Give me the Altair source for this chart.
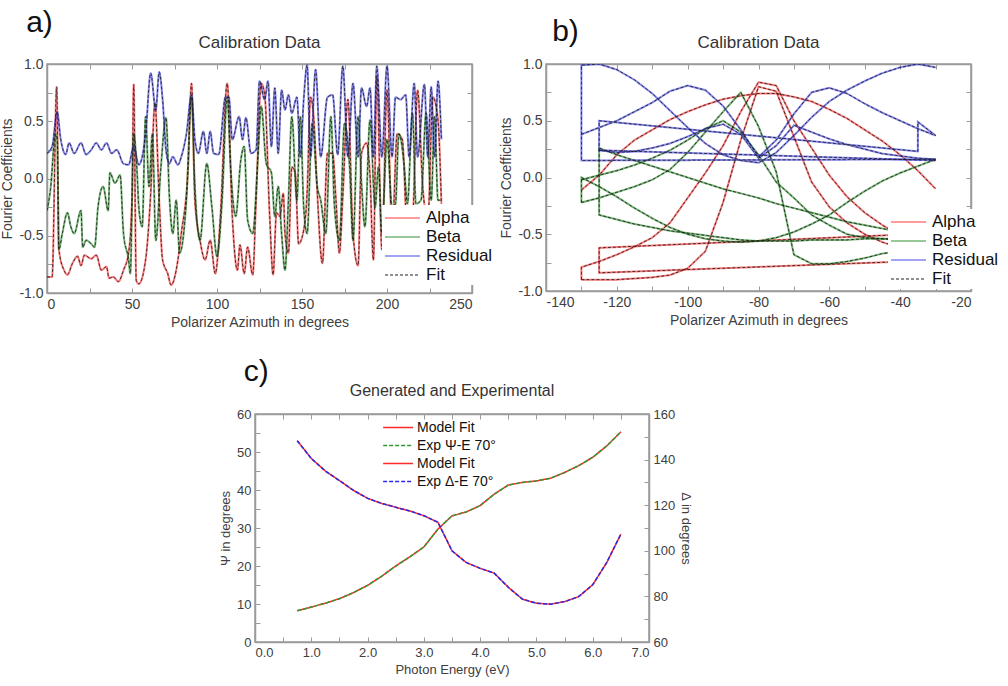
import altair as alt
import pandas as pd

FONT = "Liberation Sans"
MINUS = "\u2212"

# ---------------- panel a : Calibration Data (0..250 deg) ----------------
a_alpha_x = [0, 3, 5.7, 7, 10, 12, 15, 18, 20, 22, 26, 29, 32, 35, 36.5, 39, 42, 45, 48, 50,
             51, 52.5, 54, 58, 61, 63.5, 66, 68, 71, 73, 76, 79, 83, 85, 87, 90, 93, 96, 99, 102,
             106, 109, 112, 113.5, 116, 118, 121, 123, 126, 128, 131, 133, 135, 137, 139, 140, 142,
             144, 146, 148, 151, 153, 155, 157, 159, 162, 165, 168, 170, 172, 174, 177, 180, 183,
             185, 188, 190, 192, 194, 197, 200, 203, 206, 209, 212, 215, 218, 221, 224, 227, 230, 232]
a_alpha_y = [-0.86, -0.86, 0.80, -0.62, -0.80, -0.84, -0.74, -0.68, -0.76, -0.67, -0.70, -0.67, -0.80,
             -0.77, -0.87, -0.86, -0.90, -0.80, -0.65, -0.19, 0.82, -0.89, -0.92, -0.71, -0.13, 0.66,
             -0.19, -0.71, -0.83, -0.93, -0.80, -0.48, 0.10, 0.83, -0.19, -0.54, -0.71, -0.54, -0.83,
             -0.33, 0.83, -0.33, -0.80, -0.58, -0.83, -0.60, -0.84, -0.19, 0.83, 0.74, -0.33, -0.84,
             -0.30, -0.33, -0.13, -0.48, -0.65, 0.10, 0.05, -0.57, -0.45, -0.13, 0.71, 0.51, -0.13,
             -0.74, 0.22, 0.22, -0.19, -0.65, -0.16, 0.69, -0.48, -0.76, 0.22, 0.31, 0.02, -0.71, 0.89,
             -0.62, 0.77, -0.48, 0.39, 0.34, -0.48, -0.36, 0.77, -0.07, -0.36, 0.71, 0.51, -0.22]

a_beta_x = [0, 2, 5, 6, 7, 9, 12, 14, 16, 20, 21, 23, 26, 28, 30, 33, 36, 37, 40, 43, 45, 48, 49,
            51, 53, 54, 56, 58, 60, 62, 64, 67, 70, 72, 74, 76, 78, 82, 85, 87, 90, 94, 97, 100, 103,
            106, 108, 111, 114, 116, 118, 121, 124, 126, 129, 132, 134, 136, 138, 140, 142, 144, 147,
            149, 151, 153, 156, 159, 161, 164, 167, 169, 172, 175, 178, 180, 183, 185, 187, 190, 193,
            195, 197, 200, 203, 205, 207, 210, 212, 215, 217, 220, 223, 226, 228, 230, 232]
a_beta_y = [-0.28, -0.10, 0.39, 0.34, -0.62, -0.48, -0.30, -0.42, -0.48, -0.28, -0.60, -0.54, -0.57,
            -0.60, -0.25, -0.07, -0.28, 0.05, -0.04, 0.03, -0.48, -0.71, -0.83, 0.39, 0.05, -0.25,
            -0.42, 0.54, -0.07, 0.39, -0.54, 0.10, 0.53, -0.16, -0.48, -0.19, -0.65, -0.19, 0.71,
            -0.07, -0.54, 0.13, -0.25, -0.68, -0.19, 0.71, 0.10, -0.33, 0.16, 0.28, -0.36, -0.48,
            0.16, 0.63, 0.13, 0.05, -0.33, -0.07, -0.48, -0.80, -0.19, 0.54, -0.19, 0.54, -0.25,
            -0.48, 0.48, -0.07, -0.19, -0.48, 0.54, -0.22, -0.54, 0.48, 0.10, -0.54, 0.54, -0.04,
            -0.42, 0.51, -0.25, 0.10, -0.48, 0.34, -0.25, -0.22, 0.39, 0.13, -0.22, 0.57, -0.22,
            -0.19, 0.57, -0.19, 0.54, -0.19, -0.19]

a_res_x = [0, 3, 6, 8, 11, 13, 16, 20, 23, 26, 29, 32, 35, 38, 41, 45, 48, 51, 54, 58, 61, 64, 66,
           68, 70, 72, 74, 77, 79, 82, 85, 87, 89, 92, 94, 96, 98, 101, 105, 107, 109, 113, 115, 117,
           120, 123, 125, 128, 130, 132, 134, 136, 138, 140, 142, 144, 147, 149, 151, 153, 155, 158,
           161, 165, 168, 171, 174, 177, 180, 183, 185, 188, 190, 192, 194, 197, 200, 203, 205, 208,
           211, 213, 216, 218, 222, 224, 226, 228, 230, 232]
a_res_y = [0.22, 0.28, 0.58, 0.35, 0.21, 0.31, 0.22, 0.31, 0.21, 0.25, 0.31, 0.25, 0.31, 0.22, 0.25,
           0.13, 0.12, 0.28, 0.12, 0.39, 0.92, 0.60, 0.93, 0.69, 0.25, 0.13, 0.19, 0.12, 0.19, 0.39,
           0.73, 0.34, 0.22, 0.41, 0.22, 0.41, 0.22, 0.21, 0.71, 0.71, 0.34, 0.54, 0.34, 0.53, 0.22,
           0.25, 0.85, 0.69, 0.85, 0.28, 0.79, 0.22, 0.77, 0.60, 0.73, 0.57, 0.71, 0.19, 0.69, 0.99,
           0.19, 0.95, 0.19, 0.71, 0.73, 0.21, 0.98, 0.19, 0.83, 0.19, 0.79, 0.63, 0.79, 0.19, 0.98,
           0.19, 0.98, 0.19, 0.71, 0.69, 0.73, 0.19, 0.83, 0.19, 0.82, 0.19, 0.80, 0.19, 0.85, 0.34]

# ---------------- panel b : Calibration Data (-130..-30 deg sweeps) ----------------
b_x = [-130, -125, -120, -115, -110, -105, -100, -95, -90, -85, -80, -75, -70, -65, -60, -55, -50,
       -45, -40, -35, -30]
b_res_1 = [0.99, 1.0, 0.95, 0.86, 0.74, 0.59, 0.44, 0.30, 0.20, 0.15, 0.13, 0.22, 0.37, 0.53, 0.67,
           0.77, 0.85, 0.92, 0.97, 1.0, 0.97]
b_res_2 = [0.38, 0.44, 0.50, 0.58, 0.66, 0.76, 0.81, 0.77, 0.63, 0.42, 0.18, 0.33, 0.56, 0.75, 0.79,
           0.74, 0.65, 0.57, 0.50, 0.43, 0.37]
b_res_3 = [0.24, 0.22, 0.23, 0.26, 0.30, 0.36, 0.43, 0.47, 0.38, 0.17, 0.28, 0.46, 0.40, 0.34, 0.29,
           0.25, 0.21, 0.19, 0.17, 0.16]           # starts at -125
b_res_link_x = [-30, -130, -130]
b_res_link_y = [0.16, 0.15, 0.99]
b_res_jump_x = [-35, -35, -125, -125]
b_res_jump_y = [0.49, 0.23, 0.50, 0.24]
b_res_line_x = [-125, -30]
b_res_line_y = [0.24, 0.15]

b_beta_peak = [-0.22, -0.18, -0.13, -0.08, -0.02, 0.07, 0.22, 0.40, 0.58, 0.75, 0.45, 0.05, -0.68,
               -0.76, -0.76, -0.74, -0.71, -0.67, -0.65, -0.66, -0.67]
b_beta_u = [0.0, -0.08, -0.17, -0.27, -0.36, -0.44, -0.50, -0.54, -0.56, -0.57, -0.56, -0.53, -0.48,
            -0.41, -0.33, -0.22, -0.12, -0.03, 0.04, 0.10, 0.16]
b_beta_hump = [-0.02, 0.02, 0.06, 0.11, 0.17, 0.24, 0.33, 0.43, 0.50, 0.40, 0.20, -0.04, -0.18,
               -0.33, -0.42, -0.50, -0.53, -0.54, -0.55, -0.55, -0.55]
b_beta_desc = [0.26, 0.20, 0.15, 0.10, 0.05, 0.0, -0.05, -0.10, -0.14, -0.18, -0.23, -0.27, -0.31,
               -0.35, -0.39, -0.42, -0.45, -0.48, -0.51, -0.53]   # starts at -125
b_beta_flat = [-0.33, -0.37, -0.41, -0.44, -0.47, -0.49, -0.51, -0.53, -0.55, -0.56, -0.56, -0.56,
               -0.55, -0.55, -0.55, -0.54, -0.54, -0.54, -0.53, -0.53]  # starts at -125

b_alpha_arc = [-0.11, 0.02, 0.20, 0.33, 0.42, 0.51, 0.58, 0.64, 0.69, 0.72, 0.74, 0.74, 0.71, 0.67,
               0.60, 0.52, 0.42, 0.32, 0.20, 0.06, -0.10]
b_alpha_mid = [-0.79, -0.74, -0.68, -0.61, -0.53, -0.40, -0.18, 0.04, 0.28, 0.58, 0.84, 0.81, 0.50,
               0.26, 0.02, -0.17, -0.31, -0.42, -0.51, -0.57, -0.62]
b_alpha_narrow = [-0.90, -0.90, -0.90, -0.89, -0.88, -0.86, -0.80, -0.65, -0.22, 0.33, 0.80, 0.76,
                  0.36, -0.04, -0.26, -0.40, -0.50, -0.57, -0.62, -0.66, -0.70]
b_alpha_box_x = [-30, -125, -125, -30]
b_alpha_box_y = [-0.49, -0.62, -0.84, -0.73]

# ---------------- panel c : Generated and Experimental ----------------
c_energy = [0.75, 1.0, 1.25, 1.5, 1.75, 2.0, 2.25, 2.5, 2.75, 3.0, 3.25, 3.5, 3.75, 4.0, 4.25, 4.5,
            4.75, 5.0, 5.25, 5.5, 5.75, 6.0, 6.25, 6.5]
c_psi = [8.2, 9.2, 10.2, 11.4, 13.0, 14.9, 17.3, 20.0, 22.4, 25.0, 29.7, 33.2, 34.2, 35.9, 38.9, 41.3,
         42.0, 42.4, 43.1, 44.6, 46.4, 48.6, 51.6, 55.3]
c_delta = [148.3, 140.5, 135.0, 130.8, 126.5, 123.0, 120.8, 119.1, 117.5, 115.4, 112.5, 100.0, 94.9,
           92.3, 90.2, 84.0, 78.8, 77.0, 76.6, 77.7, 79.9, 85.1, 94.9, 107.3]

SERIES = ["Alpha", "Beta", "Residual", "Fit"]
SERIES_COLORS = ["#ff3434", "#2f8f2f", "#4646e8", "#1e1e1e"]
SERIES_DASH = [[1, 0], [1, 0], [1, 0], [3, 2]]

C_SERIES = ["Model Fit", "Exp \u03a8-E 70\u00b0", "Model Fit ", "Exp \u0394-E 70\u00b0"]
C_COLORS = ["#ff2a2a", "#2f9a2f", "#ff2a2a", "#2a2ae6"]
C_DASH = [[1, 0], [4, 2], [1, 0], [4, 2]]

LABEL_C = "#404040"
FRAME_C = "#9a9a9a"
FRAME = alt.ViewBackground(stroke=FRAME_C, strokeWidth=1.5)


def poly(series, curve, xs, ys):
    return [{"x": x, "y": y, "series": series, "curve": curve, "idx": i}
            for i, (x, y) in enumerate(zip(xs, ys))]


def axis(orient, values, expr=None, title=None, size=14, label_pad=9, title_pad=4, labels=True):
    # axis domain draws the gray frame; ticks point inward
    kw = dict(orient=orient, values=values, tickSize={"expr": "-5"}, domain=True,
              domainColor=FRAME_C, domainWidth=1.5, grid=False, tickColor=FRAME_C, tickWidth=1)
    if labels:
        kw.update(labelExpr=expr, labelFontSize=size, labelPadding=label_pad, labelColor=LABEL_C,
                  labelFont=FONT, title=title, titleFontSize=size, titlePadding=title_pad,
                  titleColor=LABEL_C, titleFont=FONT, titleFontWeight="normal")
    else:
        kw.update(labels=False, title=None)
    return alt.Axis(**kw)


YEXPR = "datum.value % 0.5 == 0 ? replace(format(datum.value, '.1f'), '" + MINUS + "', '-') : ''"
YVALS = [-1, -0.75, -0.5, -0.25, 0, 0.25, 0.5, 0.75, 1]


def calib(rows, xdom, xvals, xexpr, legend_xy, width, height, interp):
    df = pd.DataFrame(rows)
    fit = pd.DataFrame([dict(r, series="Fit", curve=r["curve"] + "-fit") for r in rows])
    leg = alt.Legend(orient="none", legendX=legend_xy[0], legendY=legend_xy[1], title=None,
                     symbolType="M-1,0H2.5", symbolSize=400, symbolStrokeWidth=1.5,
                     labelFontSize=17, labelFont=FONT, labelColor="#111", labelOffset=20,
                     fillColor="white", padding=2, rowPadding=0)
    color = alt.Color("series:N", scale=alt.Scale(domain=SERIES, range=SERIES_COLORS), legend=leg)
    dash = alt.StrokeDash("series:N", scale=alt.Scale(domain=SERIES, range=SERIES_DASH), legend=leg)
    xs = alt.Scale(domain=xdom, nice=False, zero=False)
    ys = alt.Scale(domain=[-1, 1], nice=False)
    base = alt.Chart(df).mark_line(strokeWidth=2, opacity=0.65, interpolate=interp, clip=True).encode(
        x=alt.X("x:Q", scale=xs, axis=axis("bottom", xvals, xexpr, "Polarizer Azimuth in degrees")),
        y=alt.Y("y:Q", scale=ys, axis=axis("left", YVALS, YEXPR, "Fourier Coefficients")),
        color=color, strokeDash=dash, detail="curve:N", order="idx:Q")
    fits = alt.Chart(fit).mark_line(strokeWidth=1, opacity=0.85, interpolate=interp, clip=True).encode(
        x=alt.X("x:Q", scale=xs, axis=axis("top", xvals, labels=False)),
        y=alt.Y("y:Q", scale=ys, axis=axis("right", YVALS, labels=False)),
        color=color, strokeDash=dash, detail="curve:N", order="idx:Q")
    return alt.layer(base, fits).resolve_axis(x="independent", y="independent").properties(
        width=width, height=height, view=FRAME,
        title=alt.TitleParams("Calibration Data", fontSize=17, offset=5, color="#333",
                              font=FONT, fontWeight="normal"))


# panel a
rows_a = (poly("Alpha", "alpha", a_alpha_x, a_alpha_y) + poly("Beta", "beta", a_beta_x, a_beta_y)
          + poly("Residual", "res", a_res_x, a_res_y))
panel_a = calib(rows_a, [0, 250], list(range(0, 251, 25)),
                "datum.value % 50 == 0 ? '' + datum.value : ''", (335, 141), 425, 229, "monotone")

# panel b
rows_b = (
    poly("Alpha", "a1", b_x, b_alpha_arc)
    + poly("Alpha", "a2", [b_x[0]] + b_x, [b_alpha_narrow[0]] + b_alpha_mid)
    + poly("Alpha", "a3", b_x, b_alpha_narrow)
    + poly("Alpha", "a4", b_alpha_box_x, b_alpha_box_y)
    + poly("Beta", "g1", b_x, b_beta_peak)
    + poly("Beta", "g2", [b_x[0]] + b_x, [b_beta_peak[0]] + b_beta_u)
    + poly("Beta", "g3", b_x, b_beta_hump)
    + poly("Beta", "g4", b_x[1:][::-1] + b_x[1:], b_beta_desc[::-1] + b_beta_flat)
    + poly("Residual", "r1", b_res_link_x + b_x, b_res_link_y + b_res_1)
    + poly("Residual", "r2", b_x + b_res_jump_x + b_x[1:], b_res_2 + b_res_jump_y + b_res_3)
    + poly("Residual", "r3", b_res_line_x, b_res_line_y)
)
panel_b = calib(rows_b, [-140, -20], list(range(-140, -19, 10)),
                "datum.value % 20 == 0 ? '' + datum.value : ''", (342, 145), 425, 227, "linear")

# panel c
c_leg = alt.Legend(orient="none", legendX=125, legendY=1, title=None, symbolType="M-1,0H2.2",
                   symbolSize=350, symbolStrokeWidth=1.5, labelFontSize=14, labelFont=FONT,
                   labelColor="#111", labelOffset=14, padding=2, rowPadding=0)
c_color = alt.Color("series:N", scale=alt.Scale(domain=C_SERIES, range=C_COLORS), legend=c_leg)
c_dash = alt.StrokeDash("series:N", scale=alt.Scale(domain=C_SERIES, range=C_DASH), legend=c_leg)
cx = alt.Scale(domain=[0, 7], nice=False)
cx_vals = [0, 0.5, 1, 1.5, 2, 2.5, 3, 3.5, 4, 4.5, 5, 5.5, 6, 6.5, 7]
cx_expr = "datum.value % 1 == 0 ? format(datum.value, '.1f') : ''"


def c_df(series, vals):
    return pd.DataFrame({"e": c_energy, "v": vals, "series": series})


def psi_line(series):
    return alt.Chart(c_df(series, c_psi)).mark_line(strokeWidth=1.5).encode(
        x=alt.X("e:Q", scale=cx, axis=axis("bottom", cx_vals, cx_expr, "Photon Energy (eV)", size=13)),
        y=alt.Y("v:Q", scale=alt.Scale(domain=[0, 60], nice=False),
                axis=axis("left", list(range(0, 61, 5)), "datum.value % 10 == 0 ? '' + datum.value : ''",
                          "\u03a8 in degrees", size=13)),
        color=c_color, strokeDash=c_dash)


def delta_line(series):
    return alt.Chart(c_df(series, c_delta)).mark_line(strokeWidth=1.5).encode(
        x=alt.X("e:Q", scale=cx, axis=axis("top", cx_vals, labels=False)),
        y=alt.Y("v:Q", scale=alt.Scale(domain=[60, 160], nice=False),
                axis=axis("right", list(range(60, 161, 10)),
                          "datum.value % 20 == 0 ? '' + datum.value : ''", "\u0394 in degrees", size=13)),
        color=c_color, strokeDash=c_dash)


psi_group = alt.layer(psi_line(C_SERIES[0]), psi_line(C_SERIES[1]))
delta_group = alt.layer(delta_line(C_SERIES[2]), delta_line(C_SERIES[3]))
panel_c = alt.layer(psi_group, delta_group).resolve_scale(y="independent").resolve_axis(
    x="independent", y="independent").properties(
    width=394, height=228, view=FRAME,
    title=alt.TitleParams("Generated and Experimental", fontSize=16, offset=9, color="#333",
                          font=FONT, fontWeight="normal"))

IND = dict(color="independent", strokeDash="independent")


def labelled(chart, label, dx, dy):
    return alt.vconcat(chart, title=alt.TitleParams(label, anchor="start", fontSize=30, dx=dx, dy=dy,
                                                    offset=-5, color="#111", font=FONT,
                                                    fontWeight="normal")).resolve_scale(**IND)


spacer = alt.Chart(pd.DataFrame({"s": [0]})).mark_point(opacity=0).encode(
    x=alt.X("s:Q", axis=None), y=alt.Y("s:Q", axis=None)).properties(
    width=170, height=10, view=alt.ViewBackground(stroke="transparent"))

top = alt.hconcat(labelled(panel_a, "a)", 26, 0), labelled(panel_b, "b)", 53, 9),
                  spacing=3).resolve_scale(**IND)
bottom = alt.hconcat(spacer, labelled(panel_c, "c)", 25, 0), spacing=0).resolve_scale(**IND)

chart = alt.vconcat(top, bottom, spacing=27).resolve_scale(**IND).properties(
    padding={"left": 0, "top": 8, "right": 0, "bottom": 0},
    background="white",
).configure(font=FONT).configure_view(stroke=FRAME_C, strokeWidth=1.5)

chart.save("out.html", embed_options={"renderer": "svg", "actions": False})
